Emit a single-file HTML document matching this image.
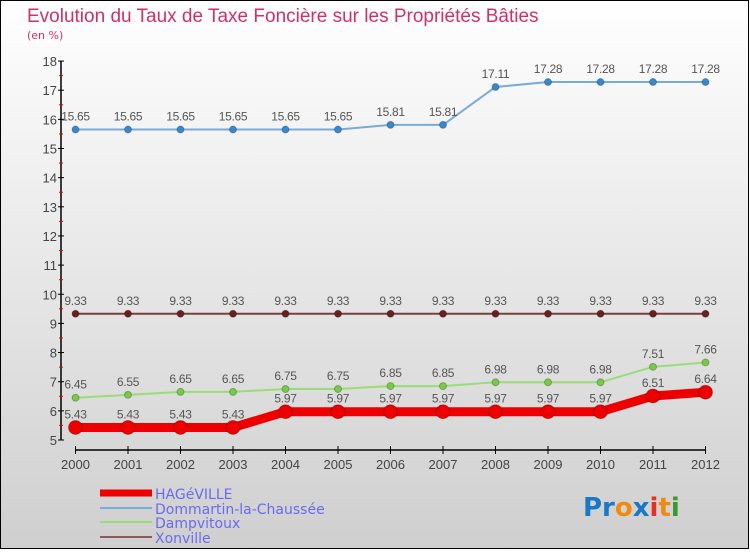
<!DOCTYPE html>
<html><head><meta charset="utf-8"><style>
body{margin:0;width:750px;height:550px;overflow:hidden;font-family:"DejaVu Sans","Liberation Sans",sans-serif}
</style></head><body>
<svg width="750" height="550" xmlns="http://www.w3.org/2000/svg">
<defs><linearGradient id="bg" x1="0" y1="0" x2="0" y2="1"><stop offset="0" stop-color="#ffffff"/><stop offset="1" stop-color="#cfcfcf"/></linearGradient></defs>
<rect x="0.5" y="0.5" width="748" height="548" fill="url(#bg)" stroke="#000"/>
<text x="27" y="22" font-size="19" fill="#d0306a" font-family="'Liberation Sans',sans-serif">Evolution du Taux de Taxe Foncière sur les Propriétés Bâties</text>
<text x="27" y="39" font-size="11" fill="#d0306a">(en %)</text>
<g id="axes"></g><g id="series"></g><g id="legend"></g>
<g font-size="26" font-weight="bold" font-family="'DejaVu Sans',sans-serif">
<text x="583" y="516"><tspan fill="#1a78c8">Pr</tspan><tspan fill="#f08a10">o</tspan><tspan fill="#1a78c8">x</tspan><tspan fill="#e83020">i</tspan><tspan fill="#f08a10">t</tspan><tspan fill="#3a9a30">i</tspan></text>
</g>
</svg>
<script>
const years=[2000,2001,2002,2003,2004,2005,2006,2007,2008,2009,2010,2011,2012];
const yTicks=[5,6,7,8,9,10,11,12,13,14,15,16,17,18];
const hageville=[5.43,5.43,5.43,5.43,5.97,5.97,5.97,5.97,5.97,5.97,5.97,6.51,6.64];
const dommartin=[15.65,15.65,15.65,15.65,15.65,15.65,15.81,15.81,17.11,17.28,17.28,17.28,17.28];
const dampvitoux=[6.45,6.55,6.65,6.65,6.75,6.75,6.85,6.85,6.98,6.98,6.98,7.51,7.66];
const xonville=[9.33,9.33,9.33,9.33,9.33,9.33,9.33,9.33,9.33,9.33,9.33,9.33,9.33];
const NS='http://www.w3.org/2000/svg';
function X(i){return 75.5+i*52.5}
function Y(v){return 440-(v-5)*29.15}
function mk(tag,attrs,parent){const e=document.createElementNS(NS,tag);for(const k in attrs)e.setAttribute(k,attrs[k]);parent.appendChild(e);return e}
const ax=document.getElementById('axes');
let l=mk('line',{x1:61,y1:Y(18),x2:61,y2:Y(5),stroke:'#000','stroke-width':1.5},ax);


yTicks.forEach(v=>{
 mk('line',{x1:58,y1:Y(v),x2:64,y2:Y(v),stroke:'#000'},ax);
 if(v<18){mk('line',{x1:59,y1:Y(v+0.5),x2:63,y2:Y(v+0.5),stroke:'#e00'},ax);}
 const t=mk('text',{x:57,y:Y(v)+5,'text-anchor':'end','font-size':13,fill:'#444','font-family':'Liberation Sans, sans-serif'},ax);
 t.textContent=v;
 
 
});
l=mk('line',{x1:X(0),y1:450,x2:X(12),y2:450,stroke:'#000','stroke-width':1.5},ax);


years.forEach((y,i)=>{
 mk('line',{x1:X(i),y1:446,x2:X(i),y2:454,stroke:'#000'},ax);
 const t=mk('text',{x:X(i),y:469,'text-anchor':'middle','font-size':13,fill:'#444','font-family':'Liberation Sans, sans-serif'},ax);
 t.textContent=y;
 
 
});
const sg=document.getElementById('series');
function series(vals,color,w,r,name,dot){
 const g=mk('g',{},sg);
 
 
 mk('polyline',{points:vals.map((v,i)=>X(i)+','+Y(v)).join(' '),fill:'none',stroke:color,'stroke-width':w,'stroke-linejoin':'round'},g);
 vals.forEach((v,i)=>{
  const c=mk('circle',{cx:X(i),cy:Y(v),r:r,fill:dot,stroke:'rgba(0,0,0,0.25)'},g);
  
  
  const t=mk('text',{x:X(i),y:Y(v)-9,'text-anchor':'middle','font-size':12,fill:'#555','font-family':'Liberation Sans, sans-serif','letter-spacing':'-0.3'},g);
  t.textContent=v.toFixed(2).replace(/0$/,'').replace(/\.$/,'');
  
  
 });
}
series(xonville,'#7a4040',2,3.5,'xonville-series','#6a2020');
series(dampvitoux,'#99dd77',2,3.5,'dampvitoux-series','#77cc44');
series(dommartin,'#7aaad8',2,3.5,'dommartin-series','#3a88cc');
series(hageville,'#ee0000',9,7,'hageville-series','#ee0000');
const lg=document.getElementById('legend');
[['HAGéVILLE','#ee0000',7,493],['Dommartin-la-Chaussée','#7aaad8',2,508],['Dampvitoux','#99dd77',2,522],['Xonville','#8a5a5a',2,537]].forEach(([n,c,w,y])=>{
 const g=mk('g',{},lg);
 
 
 mk('line',{x1:100,y1:y,x2:152,y2:y,stroke:c,'stroke-width':w},g);
 const t=mk('text',{x:155,y:y+6,'font-size':14,fill:'#6a6af0'},g);
 t.textContent=n;
});
</script>
</body></html>
